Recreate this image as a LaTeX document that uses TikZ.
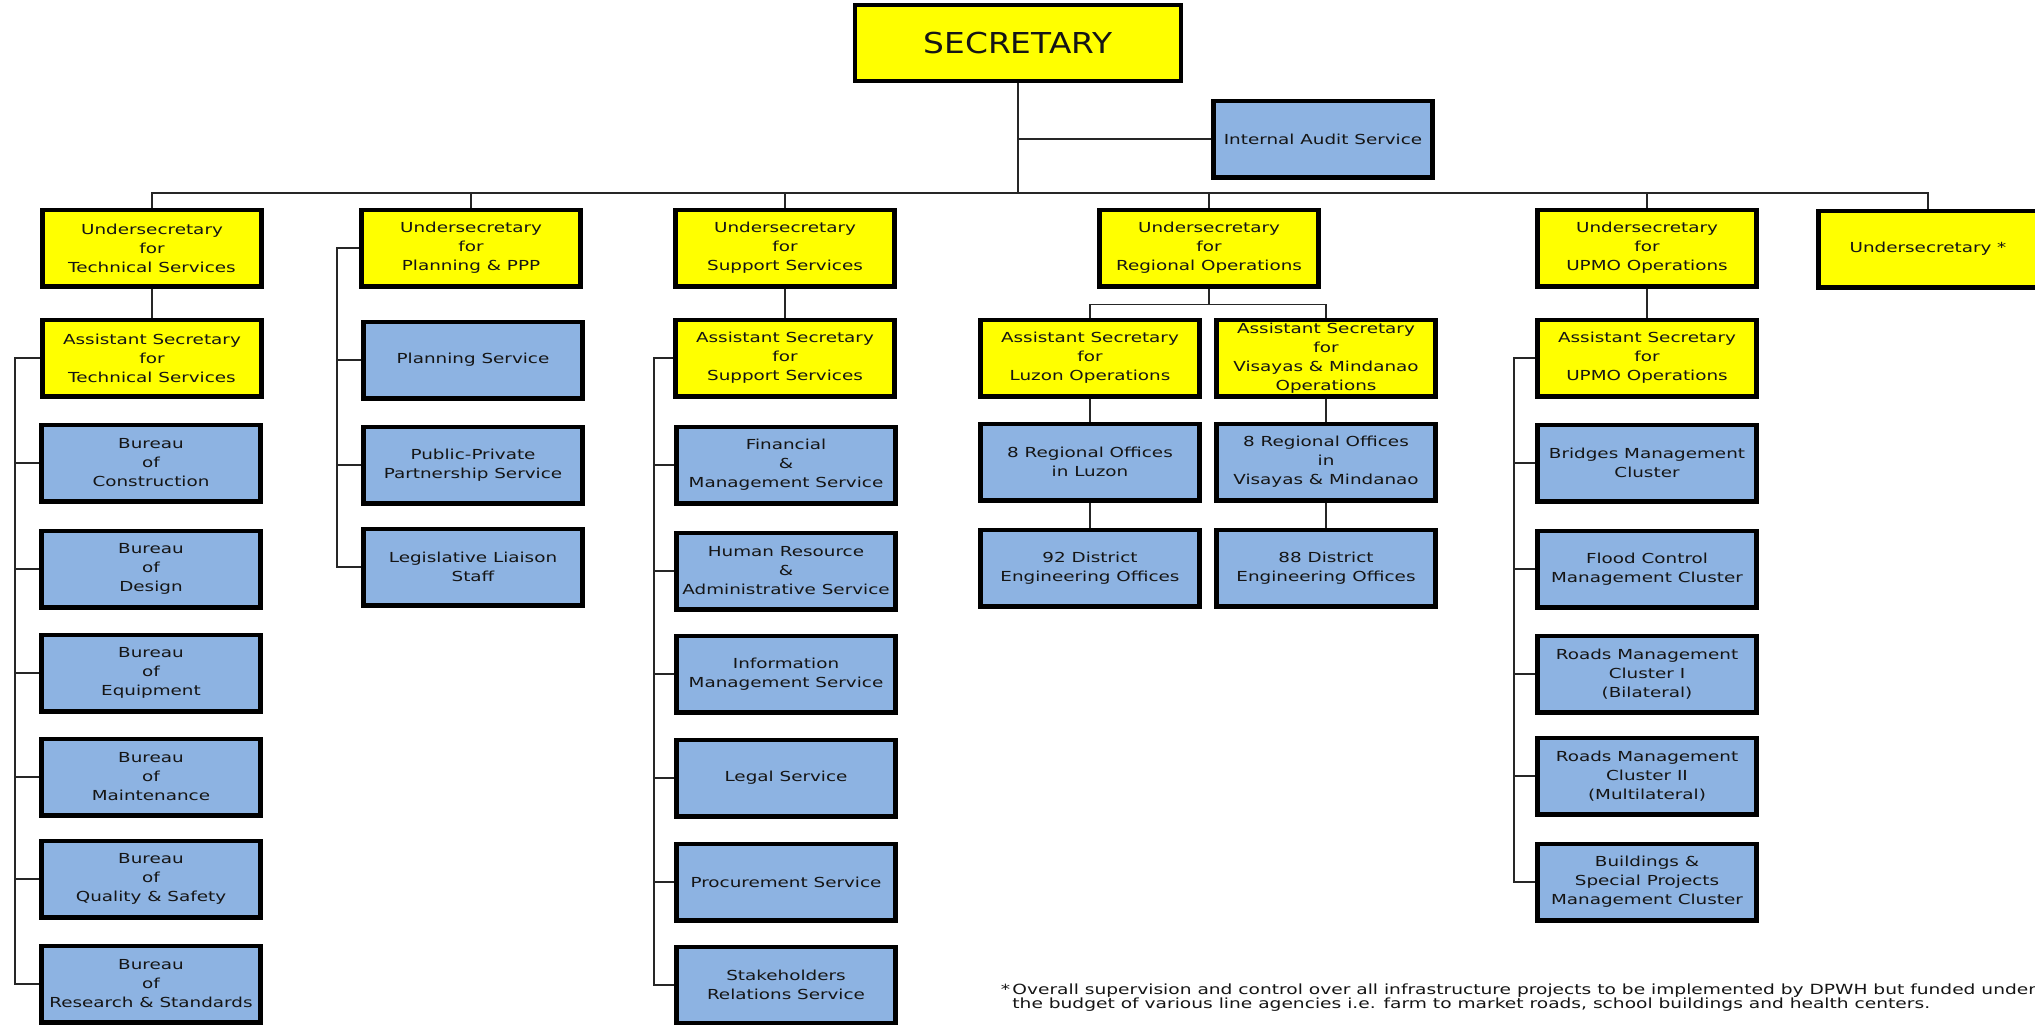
\documentclass[tikz,border=0pt]{standalone}
\usepackage{fontspec}
\setmainfont{DejaVu Sans}[FakeStretch=1.33]
\newfontfamily\headfont{DejaVu Sans}[FakeStretch=1.14]
\usepackage{tikz}
\usetikzlibrary{positioning,calc}
\definecolor{boxyellow}{HTML}{FFFF00}
\definecolor{boxblue}{HTML}{8DB3E2}
\definecolor{ink}{HTML}{151515}
\tikzset{
  office/.style={draw=black,line width=2.3pt,
                 minimum width=109.7pt,minimum height=38.2pt,
                 inner sep=0.5pt,align=center,text=ink,
                 font=\fontsize{6.9}{9.5}\selectfont},
  headbox/.style={office,fill=boxyellow},
  unitbox/.style={office,fill=boxblue},
  link/.style={line width=0.8pt,draw=black!85}
}

\begin{document}
\begin{tikzpicture}[x=0.5pt,y=-0.5pt]
  \clip (0,0) rectangle (2035,1024);
  \fill[white] (0,0) rectangle (2035,1024);
  % top
  \node[headbox,minimum width=163pt,minimum height=38pt,
        font=\headfont\fontsize{14.4}{16}\selectfont] (sec) at (1018,43) {SECRETARY};
  \node[unitbox] (ias) at (1323,139) {Internal Audit Service};
  \coordinate (bus) at (1018,193);
  % undersecretaries
  \node[headbox] (ut) at (152,248) {Undersecretary\\for\\Technical Services};
  \node[headbox] (up) at (471,248) {Undersecretary\\for\\Planning \& PPP};
  \node[headbox] (us) at (785,248) {Undersecretary\\for\\Support Services};
  \node[headbox] (ur) at (1209,248) {Undersecretary\\for\\Regional Operations};
  \node[headbox] (uu) at (1647,248) {Undersecretary\\for\\UPMO Operations};
  \node[headbox] (ux) at (1928,249) {Undersecretary *};
  % assistant secretaries
  \node[headbox] (at) at (152,358) {Assistant Secretary\\for\\Technical Services};
  \node[headbox] (as) at (785,358) {Assistant Secretary\\for\\Support Services};
  \node[headbox] (al) at (1090,358) {Assistant Secretary\\for\\Luzon Operations};
  \node[headbox] (av) at (1326,358) {Assistant Secretary\\for\\Visayas \& Mindanao\\Operations};
  \node[headbox] (au) at (1647,358) {Assistant Secretary\\for\\UPMO Operations};
  % technical services
  \node[unitbox] (bcon) at (151,463) {Bureau\\of\\Construction};
  \node[unitbox] (bdes) at (151,569) {Bureau\\of\\Design};
  \node[unitbox] (bequ) at (151,673) {Bureau\\of\\Equipment};
  \node[unitbox] (bmai) at (151,777) {Bureau\\of\\Maintenance};
  \node[unitbox] (bqua) at (151,879) {Bureau\\of\\Quality \& Safety};
  \node[unitbox] (bres) at (151,984) {Bureau\\of\\Research \& Standards};
  % planning
  \node[unitbox] (plan) at (473,360) {Planning Service};
  \node[unitbox] (ppps) at (473,465) {Public-Private\\Partnership Service};
  \node[unitbox] (lls) at (473,567) {Legislative Liaison\\Staff};
  % support services
  \node[unitbox] (fms) at (786,465) {Financial\\\&\\Management Service};
  \node[unitbox] (hras) at (786,571) {Human Resource\\\&\\Administrative Service};
  \node[unitbox] (ims) at (786,674) {Information\\Management Service};
  \node[unitbox] (legal) at (786,778) {Legal Service};
  \node[unitbox] (proc) at (786,882) {Procurement Service};
  \node[unitbox] (srs) at (786,985) {Stakeholders\\Relations Service};
  % regional operations
  \node[unitbox] (rl) at (1090,462) {8 Regional Offices\\in Luzon};
  \node[unitbox] (rv) at (1326,462) {8 Regional Offices\\in\\Visayas \& Mindanao};
  \node[unitbox] (dl) at (1090,568) {92 District\\Engineering Offices};
  \node[unitbox] (dv) at (1326,568) {88 District\\Engineering Offices};
  % upmo
  \node[unitbox] (cbr) at (1647,463) {Bridges Management\\Cluster};
  \node[unitbox] (cfl) at (1647,569) {Flood Control\\Management Cluster};
  \node[unitbox] (crb) at (1647,674) {Roads Management\\Cluster I\\(Bilateral)};
  \node[unitbox] (crm) at (1647,776) {Roads Management\\Cluster II\\(Multilateral)};
  \node[unitbox] (cbs) at (1647,882) {Buildings \&\\Special Projects\\Management Cluster};
  % note
  \node[font=\fontsize{7}{7}\selectfont,align=left,anchor=north west,inner sep=0pt,text=ink] (note) at (1012,983)
    {\llap{*\,}Overall supervision and control over all infrastructure projects to be implemented by DPWH but funded under\\
     the budget of various line agencies i.e. farm to market roads, school buildings and health centers.};
  % connectors
  \draw[link] (sec) -- (bus);
  \draw[link] (sec |- ias) -- (ias);
  \draw[link] (ut.north) |- (bus) -| (ux.north);
  \foreach \u in {up,us,ur,uu}
    \draw[link] (\u.north) -- (\u.north |- bus);
  \draw[link] (ut) -- (at);
  \draw[link] (us) -- (as);
  \draw[link] (uu) -- (au);
  \draw[link] (ur.south) -- ++(0,16) -| (al.north);
  \draw[link] (ur.south) -- ++(0,16) -| (av.north);
  \foreach \b in {bcon,bdes,bequ,bmai,bqua,bres}
    \draw[link] (at.west) -- ++(-25,0) |- (\b.west);
  \foreach \b in {plan,ppps,lls}
    \draw[link] (up.west) -- ++(-22,0) |- (\b.west);
  \foreach \b in {fms,hras,ims,legal,proc,srs}
    \draw[link] (as.west) -- ++(-19,0) |- (\b.west);
  \foreach \b in {cbr,cfl,crb,crm,cbs}
    \draw[link] (au.west) -- ++(-21,0) |- (\b.west);
  \draw[link] (al) -- (rl);
  \draw[link] (rl) -- (dl);
  \draw[link] (av) -- (rv);
  \draw[link] (rv) -- (dv);
\end{tikzpicture}
\end{document}
